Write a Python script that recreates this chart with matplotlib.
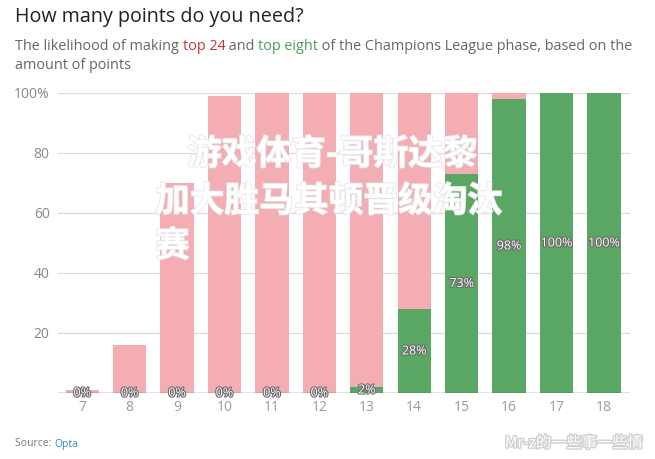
import matplotlib
matplotlib.use("Agg")
import matplotlib.pyplot as plt
import matplotlib.patheffects as pe

plt.rcParams['font.family'] = ['Open Sans', 'Noto Sans CJK SC', 'DejaVu Sans']

# Data
points = [7, 8, 9, 10, 11, 12, 13, 14, 15, 16, 17, 18]
top24 = [1, 16, 70, 99, 100, 100, 100, 100, 100, 100, 100, 100]
top8 = [0, 0, 0, 0, 0, 0, 2, 28, 73, 98, 100, 100]
y_ticks = [20, 40, 60, 80, 100]
y_tick_labels = ['20', '40', '60', '80', '100%']

pink = '#f5adb4'
green = '#5aa663'

fig = plt.figure(figsize=(6.55, 4.59), dpi=100)
ax = fig.add_axes([58 / 655, 1 - 393 / 459, 572 / 655, 300 / 459])

ax.bar(points, top24, width=0.7, color=pink, zorder=2)
ax.bar(points, top8, width=0.7, color=green, zorder=3)

for p, v in zip(points, top8):
    ax.text(p, v / 2, f'{v}%', ha='center', va='center', color='white',
            fontsize=9, zorder=5,
            path_effects=[pe.withStroke(linewidth=1.6, foreground='#6a6a6a')])

ax.set_xlim(6.49, 18.55)
ax.set_ylim(0, 100)
ax.set_yticks(y_ticks)
ax.set_yticklabels(y_tick_labels)
ax.set_xticks(points)
ax.set_xticklabels([str(p) for p in points])
ax.grid(axis='y', color='#dcdcdc', linewidth=0.9, zorder=0)
ax.axhline(0, color='#666666', linewidth=1.0, zorder=4)
for s in ax.spines.values():
    s.set_visible(False)
ax.tick_params(axis='both', length=0, labelsize=10, labelcolor='#888888')
ax.tick_params(axis='y', pad=6)
ax.tick_params(axis='x', pad=5, labelcolor='#9a9a9a')

# Title and coloured subtitle
fig.text(15 / 655, 1 - 17 / 459, 'How many points do you need?', fontsize=14.2,
         color='#222222', va='center', ha='left')

renderer = fig.canvas.get_renderer()


def colored_line(x_px, y_frac, parts, size):
    for s, c in parts:
        t = fig.text(x_px / 655, y_frac, s, fontsize=size, color=c,
                     va='center', ha='left')
        ext = t.get_window_extent(renderer)
        x_px = ext.x1


sub = [('The likelihood of making ', '#666666'), ('top 24', '#c8323a'),
       (' and ', '#666666'), ('top eight', '#4e9a58'),
       (' of the Champions League phase, based on the', '#666666')]
colored_line(15, 1 - 46 / 459, sub, 10.35)
colored_line(15, 1 - 66 / 459, [('amount of points', '#666666')], 10.35)

colored_line(15, 1 - 444 / 459, [('Source: ', '#777777'), ('Opta', '#2a8cc4')], 7.5)

# Overlay watermark text
wm = dict(fontsize=25, color='white', fontweight='bold', va='center', ha='left',
          family=['Noto Sans CJK SC', 'DejaVu Sans'],
          path_effects=[pe.withStroke(linewidth=1.2, foreground='#e6e6e6')])
fig.text(187 / 655, 1 - 154 / 459, '游戏体育-哥斯达黎', **wm)
fig.text(155 / 655, 1 - 201 / 459, '加大胜马其顿晋级淘汰', **wm)
fig.text(155 / 655, 1 - 246 / 459, '赛', **wm)

fig.text(505 / 655, 1 - 443 / 459, 'Mr-z的一些事一些情', fontsize=11, color='white',
         va='center', ha='left', family=['Noto Sans CJK SC', 'DejaVu Sans'],
         path_effects=[pe.withStroke(linewidth=2, foreground='#d0d0d0')])

fig.savefig('out.png', dpi=100)
